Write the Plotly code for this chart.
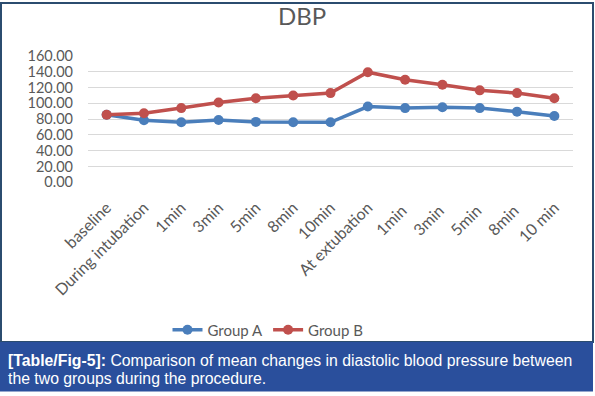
import plotly.graph_objects as go

categories = ["baseline", "During intubation", "1min", "3min", "5min", "8min", "10min",
              "At extubation", "1min ", "3min ", "5min ", "8min ", "10 min"]
group_a = [85.5, 78.5, 76.0, 79.0, 76.5, 76.0, 76.0, 96.0, 94.0, 95.0, 94.0, 89.5, 84.0]
group_b = [85.5, 87.5, 94.0, 101.0, 106.5, 110.0, 113.0, 139.5, 130.0, 123.5, 116.5, 113.0, 106.5]
y_ticks = [0, 20, 40, 60, 80, 100, 120, 140, 160]
y_tick_text = ["%.2f" % v for v in y_ticks]

W, H = 595, 396
def px(x): return x / W
def py(y): return 1 - y / H

fig = go.Figure()
fig.add_trace(go.Scatter(x=categories, y=group_a, name="Group A", mode="lines+markers",
                         line=dict(color="#4A7EBB", width=3.5),
                         marker=dict(color="#4A7EBB", size=10)))
fig.add_trace(go.Scatter(x=categories, y=group_b, name="Group B", mode="lines+markers",
                         line=dict(color="#C0504D", width=3.5),
                         marker=dict(color="#C0504D", size=10)))

fig.update_layout(
    width=W, height=H,
    margin=dict(l=0, r=0, t=0, b=0, autoexpand=False),
    paper_bgcolor="white", plot_bgcolor="white",
    font=dict(family="Lato", color="#595959"),
    title=dict(text="DBP", x=px(302), y=py(16.5), xanchor="center", yanchor="middle",
               font=dict(family="Lato", size=24, color="#595959")),
    xaxis=dict(domain=[px(88), px(573)], type="category", tickangle=-45, automargin=False,
               range=[-0.5, len(categories) - 0.5],
               tickfont=dict(family="Lato", size=16, color="#595959"),
               showgrid=False, showline=False, ticks="", ticklabelstandoff=12),
    yaxis=dict(domain=[py(182.3), py(56)], range=[0, 160], tickvals=y_ticks, automargin=False,
               ticktext=y_tick_text, showgrid=True, gridcolor="#D9D9D9", gridwidth=1,
               zeroline=False, showline=False, ticks="", ticklabelstandoff=14,
               tickfont=dict(family="Lato", size=14.5, color="#595959")),
    legend=dict(orientation="h", x=px(268), xanchor="center", y=py(330), yanchor="middle",
                font=dict(family="Lato", size=15, color="#595959"),
                itemwidth=30, bgcolor="rgba(0,0,0,0)"),
    showlegend=True,
)

# outer frame
fig.add_shape(type="rect", xref="paper", yref="paper",
              x0=px(1), x1=px(593), y0=py(342), y1=py(3),
              line=dict(color="#2B4C6F", width=2), fillcolor="rgba(0,0,0,0)", layer="above")
# caption box
fig.add_shape(type="rect", xref="paper", yref="paper",
              x0=px(0), x1=px(593), y0=py(391.5), y1=py(342),
              line=dict(width=0), fillcolor="#2A4F9C", layer="above")
caption_lines = [
    "<b>[Table/Fig-5]:</b> Comparison of mean changes in diastolic blood pressure between",
    "the two groups during the procedure.",
]
for txt, yc in zip(caption_lines, [360.5, 378]):
    fig.add_annotation(xref="paper", yref="paper", x=px(6), y=py(yc), xanchor="left",
                       yanchor="middle", align="left", showarrow=False, text=txt,
                       font=dict(family="Liberation Sans", size=15.8, color="white"))

fig.write_html("out.html", config={"displayModeBar": False},
               post_script="document.body.style.margin='0';document.body.style.overflow='hidden';")
